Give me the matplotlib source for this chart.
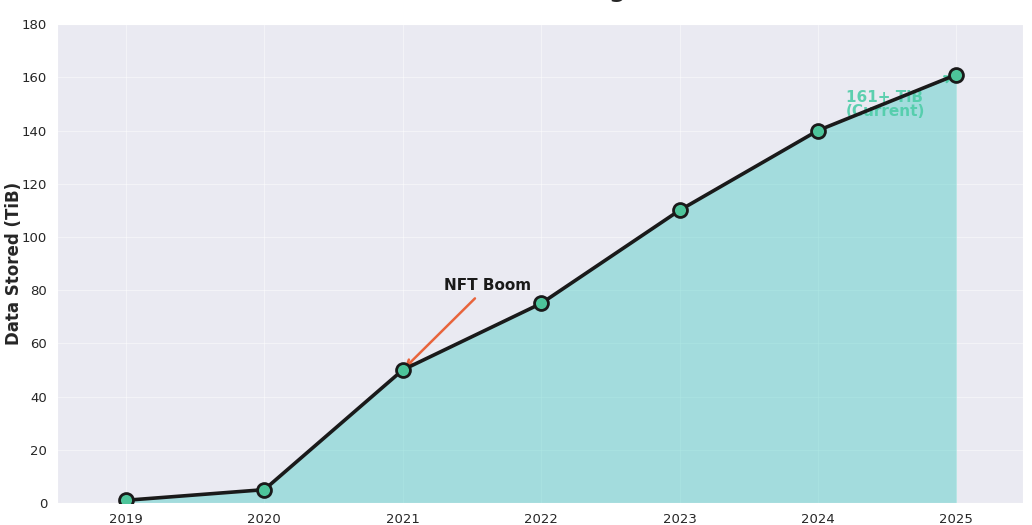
import numpy as np
import matplotlib.pyplot as plt
import seaborn as sns

years = [2019, 2020, 2021, 2022, 2023, 2024, 2025]
storage_tib = [1, 5, 50, 75, 110, 140, 161]

sns.set_style('darkgrid')
plt.rcParams['font.family'] = ['DejaVu Sans']

fig = plt.figure(figsize=(10.32, 5.25), dpi=100)
ax = fig.add_axes([0.055, 0.042, 0.936, 0.912])

ax.fill_between(years, storage_tib, color='#4ecdc4', alpha=0.45, linewidth=0)
ax.plot(years, storage_tib, color='#1a1a1a', linewidth=2.6, marker='o',
        markersize=10, markerfacecolor='#4dc49a', markeredgecolor='#1a1a1a',
        markeredgewidth=2, zorder=5)

# annotations
ax.annotate('NFT Boom', xy=(2021, 50), xytext=(2021.3, 80),
            fontsize=11, fontweight='bold', color='#1a1a1a',
            arrowprops=dict(arrowstyle='->', color='#e8643c', lw=1.8))
ax.annotate('161+ TiB\n(Current)', xy=(2025, 161), xytext=(2024.2, 145.5),
            fontsize=11, fontweight='bold', color='#4ecda8', alpha=0.9,
            linespacing=0.95,
            arrowprops=dict(arrowstyle='->', color='#4ecda8', lw=1.8))

ax.set_xlim(2018.5, 2025.48)
ax.set_ylim(0, 180)
ax.set_xticks(years)
ax.set_yticks(np.arange(0, 181, 20))
ax.tick_params(labelsize=9.5)
ax.set_ylabel('Data Stored (TiB)', fontsize=12, fontweight='bold')
ax.yaxis.set_label_coords(-0.035, 0.5)
ax.grid(True, color='white', alpha=0.45)
ax.set_title('Arweave Network Storage Over Time', fontsize=17,
             fontweight='bold', y=1.046, pad=0, va='bottom')

fig.savefig('out.png', dpi=100)
